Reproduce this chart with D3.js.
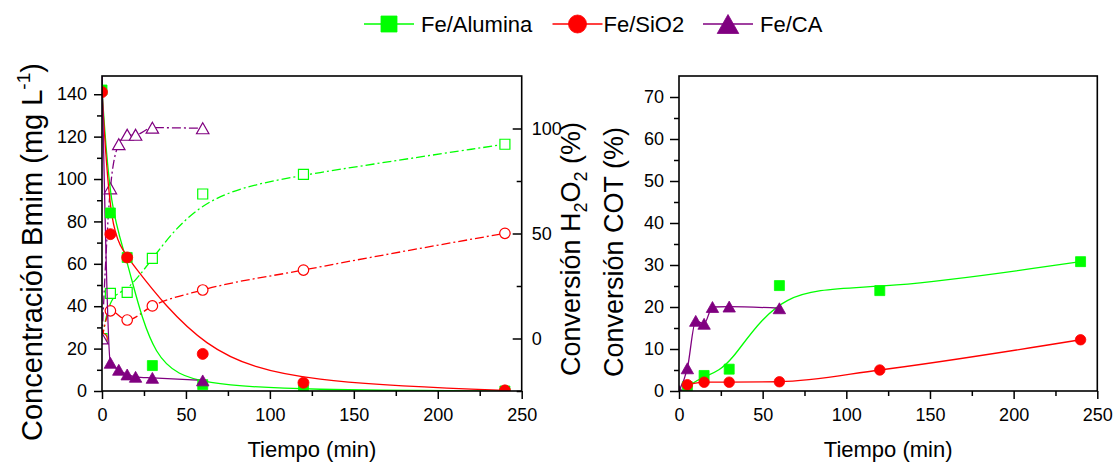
<!DOCTYPE html>
<html>
<head>
<meta charset="utf-8">
<script src="https://cdn.jsdelivr.net/npm/d3@7"></script>
<style>
  html, body { margin: 0; padding: 0; background: #fff; }
  svg { display: block; font-family: Arial, "Liberation Sans", sans-serif; }
</style>
</head>
<body>
<svg id="chart" width="1113" height="462"></svg>
<script>
// ---- Data -------------------------------------------------------------
// Sampling times (min) for each catalyst
const timeAlumina = [0, 5, 15, 30, 60, 120, 240];
const timeSiO2Conc = [0, 5, 15, 60, 120, 240];
const timeSiO2 = [0, 5, 15, 30, 60, 120, 240];
const timeCA = [0, 5, 10, 15, 20, 30, 60];
const timeCOT = [5, 15, 30, 60, 120, 240];

// Bmim concentration (mg L-1)
const concAlumina = [142, 84, 63, 12, 3, 0.5, 0];
const concSiO2 = [141, 74, 63, 17.5, 3.9, 0.3];
const concCA = [152, 13.3, 10, 7.8, 6.7, 6.2, 5];

// H2O2 conversion (%)
const h2o2Alumina = [0, 21.5, 22, 38.2, 68.8, 78.2, 92.5];
const h2o2SiO2 = [0, 13.2, 8.8, 15.5, 23.1, 32.6, 50.1];
const h2o2CA = [0, 71.5, 92.5, 97, 97, 100.4, 100.1];

// TOC (COT) conversion (%)
const cotAlumina = [1.0, 3.7, 5.2, 25.1, 23.9, 30.8];
const cotSiO2 = [1.5, 2.1, 2.1, 2.2, 5.0, 12.2];
const cotCA = [0, 5.4, 16.7, 16.0, 20.0, 20.1, 19.7];

// Axis ticks
const xTicks = [0, 50, 100, 150, 200, 250];
const xMinor = [25, 75, 125, 175, 225];
const concTicks = [0, 20, 40, 60, 80, 100, 120, 140];
const concMinor = [10, 30, 50, 70, 90, 110, 130];
const h2o2Ticks = [0, 50, 100];
const h2o2Minor = [-25, 25, 75];
const cotTicks = [0, 10, 20, 30, 40, 50, 60, 70];
const cotMinor = [5, 15, 25, 35, 45, 55, 65];

const seriesNames = ["Fe/Alumina", "Fe/SiO2", "Fe/CA"];
const colors = { alumina: "#00ff00", sio2: "#ff0000", ca: "#800080" };

// ---- Layout -----------------------------------------------------------
const svg = d3.select("#chart");
const L = { x0: 102, x1: 521.7, y0: 76, y1: 391 };
const R = { x0: 679, x1: 1097.3, y0: 76, y1: 391 };

const xL = d3.scaleLinear().domain([0, 250]).range([L.x0, L.x1]);
const yConc = d3.scaleLinear().domain([0, 148.6]).range([L.y1, L.y0]);
const yH2O2 = d3.scaleLinear().domain([-25, 125]).range([L.y1, L.y0]);
const xR = d3.scaleLinear().domain([0, 250]).range([R.x0, R.x1]);
const yCOT = d3.scaleLinear().domain([0, 75]).range([R.y1, R.y0]);

const defs = svg.append("defs");
defs.append("clipPath").attr("id", "clipL").append("rect")
  .attr("x", L.x0).attr("y", L.y0).attr("width", L.x1 - L.x0).attr("height", L.y1 - L.y0);
defs.append("clipPath").attr("id", "clipR").append("rect")
  .attr("x", R.x0).attr("y", R.y0).attr("width", R.x1 - R.x0).attr("height", R.y1 - R.y0);

// Marker shape paths centred on (0,0)
function circlePath(r) {
  return `M${-r},0A${r},${r} 0 1,0 ${r},0A${r},${r} 0 1,0 ${-r},0Z`;
}
function shapePath(shape, s) {
  if (shape === "square") return `M${-s/2},${-s/2}h${s}v${s}h${-s}Z`;
  if (shape === "circle") return circlePath(s / 2);
  const w = s * 1.08, h = s * 0.95;
  return `M0,${-h/2}L${w/2},${h/2}L${-w/2},${h/2}Z`;
}

function zip(ts, vs) { return ts.map((t, i) => [t, vs[i]]); }

function drawSeries(g, xs, ys, pts, opt) {
  const line = d3.line().x(d => xs(d[0])).y(d => ys(d[1])).curve(opt.curve);
  g.append("path").datum(pts)
    .attr("d", line)
    .attr("fill", "none")
    .attr("stroke", opt.color)
    .attr("stroke-width", 1.3)
    .attr("stroke-dasharray", opt.dash || null);
}
function drawMarkers(g, xs, ys, pts, opt) {
  g.selectAll(null).data(pts).enter().append("path")
    .attr("d", shapePath(opt.shape, opt.size))
    .attr("transform", d => `translate(${xs(d[0])},${ys(d[1])})`)
    .attr("fill", opt.open ? "#fff" : opt.color)
    .attr("stroke", opt.color)
    .attr("stroke-width", opt.open ? 1.2 : 0.8);
}

const dashDot = "9,3,2,3";

// ---- Left panel: concentration + H2O2 conversion ----------------------
const gL = svg.append("g").attr("clip-path", "url(#clipL)");

const sAluConc = zip(timeAlumina, concAlumina);
const sSiConc = zip(timeSiO2Conc, concSiO2);
const sCaConc = zip(timeCA, concCA);
const sAluH = zip(timeAlumina, h2o2Alumina);
const sSiH = zip(timeSiO2, h2o2SiO2);
const sCaH = zip(timeCA, h2o2CA);

drawSeries(gL, xL, yH2O2, sAluH, { color: colors.alumina, curve: d3.curveBasis, dash: dashDot });
drawSeries(gL, xL, yH2O2, sSiH, { color: colors.sio2, curve: d3.curveMonotoneX, dash: dashDot });
drawSeries(gL, xL, yH2O2, sCaH, { color: colors.ca, curve: d3.curveMonotoneX, dash: dashDot });
drawMarkers(gL, xL, yH2O2, sAluH, { color: colors.alumina, shape: "square", size: 10, open: true });
drawMarkers(gL, xL, yH2O2, sSiH, { color: colors.sio2, shape: "circle", size: 10.5, open: true });
drawMarkers(gL, xL, yH2O2, sCaH, { color: colors.ca, shape: "triangle", size: 11.5, open: true });

drawSeries(gL, xL, yConc, sAluConc, { color: colors.alumina, curve: d3.curveBasis });
drawSeries(gL, xL, yConc, sSiConc, { color: colors.sio2, curve: d3.curveBasis });
drawSeries(gL, xL, yConc, sCaConc, { color: colors.ca, curve: d3.curveMonotoneX });
drawMarkers(gL, xL, yConc, sAluConc, { color: colors.alumina, shape: "square", size: 10 });
drawMarkers(gL, xL, yConc, sSiConc, { color: colors.sio2, shape: "circle", size: 11 });
drawMarkers(gL, xL, yConc, sCaConc, { color: colors.ca, shape: "triangle", size: 11.5 });

// ---- Right panel: COT conversion ---------------------------------------
const gR = svg.append("g").attr("clip-path", "url(#clipR)");
const sAluC = zip(timeCOT, cotAlumina);
const sSiC = zip(timeCOT, cotSiO2);
const sCaC = zip(timeCA, cotCA);

drawSeries(gR, xR, yCOT, sAluC, { color: colors.alumina, curve: d3.curveBasis });
drawSeries(gR, xR, yCOT, sSiC, { color: colors.sio2, curve: d3.curveMonotoneX });
drawSeries(gR, xR, yCOT, sCaC, { color: colors.ca, curve: d3.curveMonotoneX });
drawMarkers(gR, xR, yCOT, sAluC, { color: colors.alumina, shape: "square", size: 10 });
drawMarkers(gR, xR, yCOT, sSiC, { color: colors.sio2, shape: "circle", size: 10.5 });
drawMarkers(gR, xR, yCOT, sCaC, { color: colors.ca, shape: "triangle", size: 11.5 });

// ---- Axes ----------------------------------------------------------------
const tickFont = 18;
function styleAxis(g) {
  g.select(".domain").remove();
  g.selectAll(".tick line").attr("stroke", "#000").attr("stroke-width", 1.5);
  g.selectAll(".tick text").attr("fill", "#000").style("font-size", tickFont + "px")
    .style("font-family", 'Arial, "Liberation Sans", sans-serif');
}
function addAxis(axis, transform) {
  svg.append("g").attr("transform", transform).call(axis).call(styleAxis);
}

// left panel
addAxis(d3.axisBottom(xL).tickValues(xTicks).tickSize(8).tickPadding(9), `translate(0,${L.y1})`);
addAxis(d3.axisBottom(xL).tickValues(xMinor).tickSize(5).tickFormat(""), `translate(0,${L.y1})`);
addAxis(d3.axisLeft(yConc).tickValues(concTicks).tickSize(8).tickPadding(7), `translate(${L.x0},0)`);
addAxis(d3.axisLeft(yConc).tickValues(concMinor).tickSize(5).tickFormat(""), `translate(${L.x0},0)`);
addAxis(d3.axisRight(yH2O2).tickValues(h2o2Ticks).tickSize(-9).tickPadding(10), `translate(${L.x1},0)`);
addAxis(d3.axisRight(yH2O2).tickValues(h2o2Minor).tickSize(-5).tickFormat(""), `translate(${L.x1},0)`);

// right panel
addAxis(d3.axisBottom(xR).tickValues(xTicks).tickSize(8).tickPadding(9), `translate(0,${R.y1})`);
addAxis(d3.axisBottom(xR).tickValues(xMinor).tickSize(5).tickFormat(""), `translate(0,${R.y1})`);
addAxis(d3.axisLeft(yCOT).tickValues(cotTicks).tickSize(9).tickPadding(6), `translate(${R.x0},0)`);
addAxis(d3.axisLeft(yCOT).tickValues(cotMinor).tickSize(5).tickFormat(""), `translate(${R.x0},0)`);

// frames
[L, R].forEach(p => {
  svg.append("rect").attr("x", p.x0).attr("y", p.y0)
    .attr("width", p.x1 - p.x0).attr("height", p.y1 - p.y0)
    .attr("fill", "none").attr("stroke", "#000").attr("stroke-width", 1.6);
});

// ---- Axis titles -----------------------------------------------------------
const titleFont = 'Arial, "Liberation Sans", sans-serif';
[(L.x0 + L.x1) / 2, (R.x0 + R.x1) / 2].forEach(cx => {
  svg.append("text").attr("x", cx).attr("y", 457).attr("text-anchor", "middle")
    .style("font-size", "22px").style("font-family", titleFont).text("Tiempo (min)");
});

const tConc = svg.append("text").attr("transform", "translate(42,252) rotate(-90)")
  .attr("text-anchor", "middle").style("font-size", "29px").style("font-family", titleFont);
tConc.append("tspan").text("Concentración Bmim (mg L");
tConc.append("tspan").attr("dy", -12).style("font-size", "19px").text("-1");
tConc.append("tspan").attr("dy", 12).text(")");

const tH = svg.append("text").attr("transform", "translate(580,249) rotate(-90)")
  .attr("text-anchor", "middle").style("font-size", "27px").style("font-family", titleFont);
tH.append("tspan").text("Conversión H");
tH.append("tspan").attr("dy", 7).style("font-size", "18px").text("2");
tH.append("tspan").attr("dy", -7).text("O");
tH.append("tspan").attr("dy", 7).style("font-size", "18px").text("2");
tH.append("tspan").attr("dy", -7).text(" (%)");

svg.append("text").attr("transform", "translate(622.5,252) rotate(-90)")
  .attr("text-anchor", "middle").style("font-size", "27px").style("font-family", titleFont)
  .text("Conversión COT (%)");

// ---- Legend ---------------------------------------------------------------
const legendItems = [
  { name: seriesNames[0], color: colors.alumina, shape: "square", size: 16, x: 364, tx: 421 },
  { name: seriesNames[1], color: colors.sio2, shape: "circle", size: 18, x: 552.5, tx: 603.5 },
  { name: seriesNames[2], color: colors.ca, shape: "triangle", size: 20, x: 703, tx: 760 }
];
const ly = 24;
legendItems.forEach(it => {
  svg.append("line").attr("x1", it.x).attr("x2", it.x + 50).attr("y1", ly).attr("y2", ly)
    .attr("stroke", it.color).attr("stroke-width", 1.3);
  svg.append("path").attr("d", shapePath(it.shape, it.size))
    .attr("transform", `translate(${it.x + 25},${ly})`)
    .attr("fill", it.color).attr("stroke", it.color).attr("stroke-width", 0.8);
  svg.append("text").attr("x", it.tx).attr("y", 32).style("font-size", "22px")
    .style("font-family", titleFont).text(it.name);
});
</script>
</body>
</html>
